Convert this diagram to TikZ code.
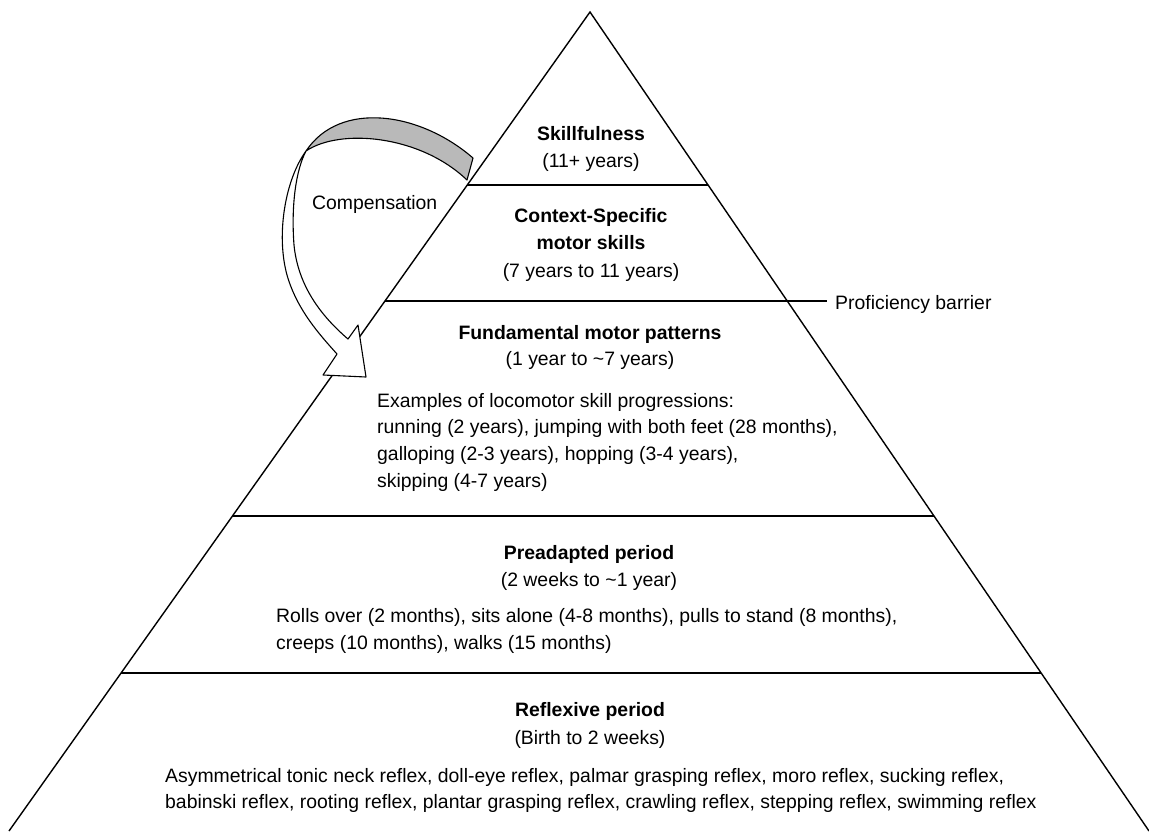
\documentclass[tikz,border=0pt]{standalone}
\usepackage{fontspec}
\setmainfont{Liberation Sans}
\usetikzlibrary{calc}
\begin{document}
\begin{tikzpicture}[x=1pt,y=-1pt,
  edge/.style={line width=1.4pt},
  tier/.style={line width=1.3pt},
  txt/.style={inner sep=0pt,anchor=base,font=\fontsize{19.4}{27}\selectfont},
  head/.style={inner sep=0pt,anchor=base,font=\fontsize{19.4}{27}\selectfont\bfseries},
  lefttxt/.style={inner sep=0pt,anchor=base west,font=\fontsize{19.4}{27}\selectfont},
  ribbon/.style={line width=1.1pt,line join=round}]
\useasboundingbox[fill=white] (0,0) rectangle (1149,831);
% pyramid
\coordinate (A) at (590,12);
\coordinate (BL) at (9,831);
\coordinate (BR) at (1149,831);
\draw[edge,line join=miter] (BL) -- (A) -- (BR);
\draw[tier] ($(A)!0.2112!(BL)$) -- ($(A)!0.2112!(BR)$);
\draw[line width=2.6pt] ($(A)!0.3529!(BL)$) -- ($(A)!0.3529!(BR)$) coordinate (pbR);
\draw[tier] ($(A)!0.6154!(BL)$) -- ($(A)!0.6154!(BR)$);
\draw[tier] ($(A)!0.8071!(BL)$) -- ($(A)!0.8071!(BR)$);
% proficiency barrier label
\node[lefttxt] (pb) at (835,309) {Proficiency barrier};
\coordinate (pbE) at (827,301);
\draw[line width=1.2pt] (pbR) -- (pbE |- pbR);
% compensation ribbon arrow
\coordinate (T) at (306,151);
\fill[gray!55] (473,158) .. controls (420,112) and (340,100) .. (T)
   .. controls (340,128) and (420,135) .. (467,180) -- cycle;
\draw[ribbon] (473,158) .. controls (420,112) and (340,100) .. (T)
   .. controls (340,128) and (420,135) .. (467,180) -- cycle;
\draw[ribbon,fill=white] (T) .. controls (285,180) and (276,235) .. (287,275)
   .. controls (297,310) and (320,335) .. (337,354)
   -- (323,375) -- (366,377) -- (358,325) -- (348,339)
   .. controls (320,315) and (298,285) .. (294,245)
   .. controls (291,205) and (296,170) .. (T) -- cycle;
\node[lefttxt] (comp) at (312,209) {Compensation};
% texts
\node[head] (skill) at (591,140) {Skillfulness};
\node[txt] (skilly) at (591,167) {(11+ years)};
\node[head] (ctx1) at (591,222) {Context-Specific};
\node[head] (ctx2) at (591,249) {motor skills};
\node[txt] (ctx3) at (591,277) {(7 years to 11 years)};
\node[head] (fund) at (590,339) {Fundamental motor patterns};
\node[txt] (fundy) at (590,365) {(1 year to \textasciitilde 7 years)};
\node[lefttxt] (ex1) at (377,407) {Examples of locomotor skill progressions:};
\node[lefttxt] (ex2) at (377,433) {running (2 years), jumping with both feet (28 months),};
\node[lefttxt] (ex3) at (377,460) {galloping (2-3 years), hopping (3-4 years),};
\node[lefttxt] (ex4) at (377,487) {skipping (4-7 years)};
\node[head] (pre) at (589,559) {Preadapted period};
\node[txt] (prey) at (589,586) {(2 weeks to \textasciitilde 1 year)};
\node[lefttxt] (pre1) at (276,622) {Rolls over (2 months), sits alone (4-8 months), pulls to stand (8 months),};
\node[lefttxt] (pre2) at (276,649) {creeps (10 months), walks (15 months)};
\node[head] (refl) at (590,716) {Reflexive period};
\node[txt] (refly) at (590,744) {(Birth to 2 weeks)};
\node[lefttxt] (r1) at (165,782) {Asymmetrical tonic neck reflex, doll-eye reflex, palmar grasping reflex, moro reflex, sucking reflex,};
\node[lefttxt] (r2) at (165,808) {babinski reflex, rooting reflex, plantar grasping reflex, crawling reflex, stepping reflex, swimming reflex};
\end{tikzpicture}
\end{document}
